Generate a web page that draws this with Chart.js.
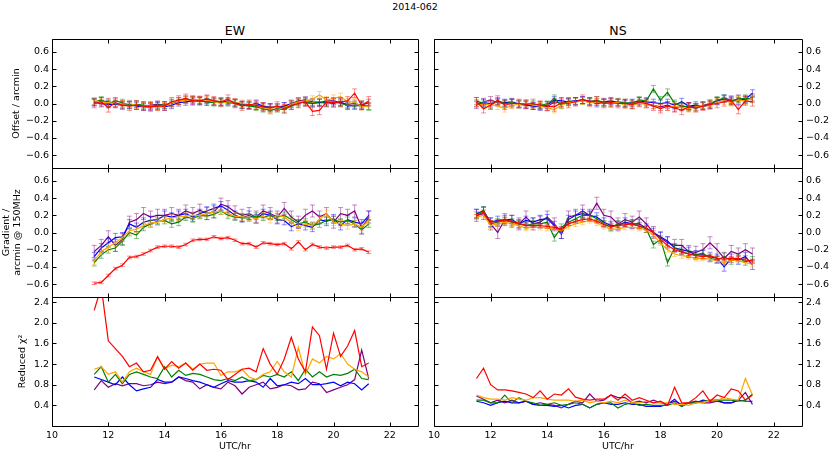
<!DOCTYPE html>
<html>
<head>
<meta charset="utf-8">
<script src="https://cdn.jsdelivr.net/npm/chart.js@4.4.1/dist/chart.umd.min.js"></script>
<style>
body { margin: 0; background: #fff; width: 830px; height: 453px; overflow: hidden; position: relative; font-family: "DejaVu Sans"; }
canvas { position: absolute; }
.lbl { position: absolute; transform: translate(-50%, -50%); white-space: nowrap; color: #000; }
</style>
</head>
<body>
<div class="lbl" style="left:415px;top:6px;font-size:9.5px">2014-062</div>
<div class="lbl" style="left:235px;top:30px;font-size:12.5px">EW</div>
<div class="lbl" style="left:618px;top:30px;font-size:12.5px">NS</div>
<canvas id="offEW"></canvas>
<canvas id="offNS"></canvas>
<canvas id="gradEW"></canvas>
<canvas id="gradNS"></canvas>
<canvas id="chiEW"></canvas>
<canvas id="chiNS"></canvas>
<script>
// time of each snapshot (UTC hours)
const times = [11.5,11.75,12,12.25,12.5,12.75,13,13.25,13.5,13.75,14,14.25,14.5,14.75,15,15.25,15.5,15.75,16,16.25,
  16.5,16.75,17,17.25,17.5,17.75,18,18.25,18.5,18.75,19,19.25,19.5,19.75,20,20.25,20.5,20.75,21,21.25];

const xTicks = [10,12,14,16,18,20,22];
const offTicks = [-0.6,-0.4,-0.2,0,0.2,0.4,0.6];
const chiTicks = [0.4,0.8,1.2,1.6,2.0,2.4];

// series order: red, orange, green, blue, purple
const offEWred    = [0.00,0.02,-0.05,0.01,-0.02,-0.03,-0.02,-0.03,-0.04,-0.03,-0.03,0.02,0.04,0.06,0.03,0.03,0.05,0.03,0.02,0.05,0.00,-0.03,-0.01,-0.02,-0.04,-0.05,-0.03,-0.06,-0.02,0.00,0.02,-0.09,-0.08,0.02,0.01,0.02,0.03,0.12,-0.02,0.03];
const offEWorange = [0.03,0.02,0.01,0.00,-0.01,0.00,-0.02,-0.03,-0.03,-0.04,-0.03,0.01,0.03,0.04,0.04,0.05,0.04,0.02,0.00,0.02,0.02,0.00,-0.01,-0.02,-0.05,-0.06,-0.04,-0.05,-0.01,0.02,0.03,0.05,0.10,0.04,0.06,0.08,0.02,0.02,-0.04,-0.03];
const offEWgreen  = [0.02,0.04,0.00,0.03,0.01,-0.02,-0.01,-0.02,-0.03,-0.02,-0.02,0.01,0.03,0.05,0.04,0.03,0.02,0.01,0.02,0.01,0.00,-0.02,-0.03,-0.04,-0.06,-0.08,-0.06,-0.07,-0.03,0.00,0.02,0.01,0.02,0.00,0.02,0.00,-0.02,-0.03,-0.01,-0.04];
const offEWblue   = [0.01,0.00,-0.01,-0.01,-0.02,-0.01,-0.03,-0.04,-0.04,-0.03,-0.04,-0.02,0.01,0.02,0.03,0.03,0.02,0.02,0.01,0.03,0.01,-0.01,-0.02,0.00,-0.03,-0.05,-0.04,-0.03,-0.01,0.02,0.01,0.00,0.01,0.01,0.00,0.02,-0.03,-0.02,-0.03,-0.03];
const offEWpurple = [0.02,0.03,0.02,0.00,-0.01,-0.02,-0.01,-0.03,-0.02,-0.01,-0.02,0.00,0.03,0.04,0.05,0.04,0.05,0.03,0.02,0.02,0.01,-0.02,-0.02,-0.03,-0.04,-0.04,-0.05,-0.03,0.00,0.03,0.04,0.02,0.01,0.03,0.03,0.01,-0.01,0.00,-0.02,0.01];

const offNSred    = [0.02,-0.06,-0.02,0.04,-0.02,0.00,0.00,-0.01,0.00,-0.02,-0.03,-0.04,0.01,0.00,0.02,0.05,0.02,0.03,0.00,0.01,0.00,0.00,-0.01,0.02,0.00,-0.03,-0.06,-0.03,-0.05,-0.08,-0.04,-0.05,-0.03,-0.01,0.00,0.02,0.04,-0.07,0.03,0.02];
const offNSorange = [0.00,-0.02,-0.01,-0.03,-0.06,-0.02,-0.01,0.00,-0.02,-0.03,-0.05,-0.07,-0.02,0.01,0.02,0.03,0.01,0.02,0.00,0.01,0.01,-0.02,-0.02,0.00,-0.01,-0.02,-0.05,-0.04,-0.03,-0.05,-0.06,-0.04,-0.02,-0.03,0.02,0.03,0.01,0.04,0.03,0.06];
const offNSgreen  = [0.03,0.00,-0.02,0.03,0.00,0.01,-0.01,0.00,-0.01,-0.02,-0.01,0.06,-0.02,0.03,0.02,0.03,0.02,0.04,0.01,0.00,0.02,0.01,0.00,0.04,0.03,0.17,0.04,0.13,0.00,-0.03,-0.04,-0.05,-0.03,-0.01,0.04,0.06,0.03,0.05,0.06,0.05];
const offNSblue   = [0.00,0.01,0.00,0.02,0.01,0.02,-0.01,-0.02,-0.03,-0.04,-0.02,0.04,0.03,0.02,0.03,0.04,0.02,0.00,0.01,0.02,0.01,0.00,0.01,0.03,0.02,0.01,0.00,0.01,-0.02,0.02,-0.03,-0.02,-0.03,-0.02,0.03,0.06,0.04,0.03,0.05,0.12];
const offNSpurple = [-0.02,0.02,0.04,0.01,0.00,0.01,0.00,-0.01,-0.03,-0.02,-0.04,0.02,0.00,0.02,0.03,0.04,0.03,0.02,0.02,0.03,0.01,0.00,-0.02,0.01,0.00,-0.02,-0.04,-0.02,-0.05,-0.04,-0.03,-0.04,-0.02,0.00,0.03,0.05,0.02,0.06,0.04,0.07];

const gradEWred    = [-0.59,-0.58,-0.50,-0.42,-0.38,-0.29,-0.28,-0.25,-0.21,-0.17,-0.16,-0.16,-0.17,-0.14,-0.09,-0.08,-0.08,-0.05,-0.07,-0.06,-0.09,-0.13,-0.13,-0.17,-0.12,-0.13,-0.14,-0.13,-0.19,-0.11,-0.20,-0.14,-0.17,-0.18,-0.17,-0.17,-0.15,-0.20,-0.19,-0.23];
const gradEWorange = [-0.33,-0.22,-0.17,-0.12,-0.06,0.02,0.04,0.08,0.11,0.12,0.15,0.17,0.18,0.19,0.20,0.20,0.22,0.24,0.25,0.22,0.19,0.18,0.18,0.16,0.19,0.15,0.20,0.18,0.12,0.06,0.10,0.08,0.15,0.22,0.12,0.10,0.08,0.10,0.06,0.14];
const gradEWgreen  = [-0.35,-0.26,-0.20,-0.18,-0.10,0.00,-0.03,0.06,0.10,0.13,0.14,0.10,0.12,0.18,0.16,0.20,0.19,0.21,0.25,0.20,0.18,0.17,0.17,0.19,0.18,0.20,0.18,0.20,0.15,0.10,0.12,0.08,0.10,0.14,0.15,0.12,0.14,0.10,0.03,0.10];
const gradEWblue   = [-0.28,-0.18,-0.12,-0.06,-0.05,0.10,0.06,0.12,0.14,0.15,0.20,0.18,0.20,0.22,0.18,0.22,0.25,0.28,0.31,0.26,0.20,0.17,0.20,0.16,0.22,0.20,0.15,0.14,0.07,0.10,0.08,0.06,0.15,0.13,0.16,0.08,0.15,0.12,0.10,0.20];
const gradEWpurple = [-0.22,-0.15,-0.05,-0.15,-0.08,0.12,0.15,0.22,0.18,0.20,0.20,0.22,0.20,0.25,0.22,0.26,0.22,0.24,0.33,0.30,0.24,0.20,0.22,0.18,0.25,0.22,0.18,0.28,0.18,0.12,0.20,0.25,0.18,0.22,0.12,0.22,0.20,0.25,0.05,0.18];

const gradNSred    = [0.19,0.24,0.12,0.13,0.15,0.13,0.11,0.08,0.08,0.08,0.07,0.06,0.04,0.10,0.13,0.15,0.16,0.13,0.09,0.07,0.08,0.09,0.10,0.07,0.05,0.00,-0.08,-0.15,-0.20,-0.23,-0.25,-0.27,-0.28,-0.27,-0.30,-0.31,-0.30,-0.30,-0.32,-0.33];
const gradNSorange = [0.18,0.20,0.08,0.10,0.12,0.10,0.08,0.05,0.06,0.06,0.05,0.04,0.02,0.07,0.10,0.12,0.14,0.11,0.07,0.04,0.04,0.06,0.06,0.05,0.03,-0.03,-0.12,-0.20,-0.25,-0.27,-0.28,-0.30,-0.30,-0.31,-0.33,-0.35,-0.32,-0.33,-0.35,-0.37];
const gradNSgreen  = [0.20,0.26,0.10,0.12,0.14,0.12,0.10,0.08,0.10,0.10,0.12,-0.06,0.06,0.12,0.16,0.20,0.20,0.16,0.10,0.06,0.10,0.10,0.10,0.08,0.04,-0.14,-0.08,-0.35,-0.18,-0.22,-0.25,-0.26,-0.24,-0.30,-0.32,-0.28,-0.33,-0.30,-0.34,-0.32];
const gradNSblue   = [0.22,0.25,0.12,0.14,0.15,0.15,0.10,0.14,0.12,0.15,0.16,0.08,-0.02,0.15,0.20,0.22,0.20,0.18,0.12,0.08,0.08,0.12,0.10,0.10,0.05,0.00,-0.05,-0.10,-0.18,-0.20,-0.22,-0.26,-0.26,-0.28,-0.30,-0.40,-0.30,-0.32,-0.28,-0.38];
const gradNSpurple = [0.20,0.22,0.10,0.00,0.15,0.13,0.10,0.18,0.10,0.12,0.18,0.10,0.00,0.18,0.20,0.25,0.20,0.34,0.20,0.18,0.10,0.15,0.12,0.18,0.10,0.00,-0.06,-0.12,-0.15,-0.15,-0.22,-0.23,-0.20,-0.12,-0.20,-0.30,-0.22,-0.25,-0.20,-0.25];

const chiEWred    = [2.24,2.70,1.65,1.50,1.35,1.15,1.22,1.05,1.08,1.34,1.10,1.25,1.12,1.22,1.08,1.20,1.08,1.10,1.08,0.90,1.00,1.10,1.12,1.05,1.50,1.20,1.00,1.30,1.72,1.30,1.05,1.92,1.75,1.10,1.80,1.35,1.55,1.85,1.15,1.22];
const chiEWorange = [1.10,1.15,1.00,1.05,0.85,1.05,1.12,1.05,1.00,1.35,1.10,1.18,1.15,1.22,1.10,1.20,1.22,1.22,0.98,1.05,1.05,1.10,0.95,0.90,1.00,1.05,1.25,1.05,0.95,1.52,1.00,1.30,1.22,1.35,1.30,1.40,1.20,1.10,1.05,0.95];
const chiEWgreen  = [1.00,1.15,0.85,1.00,0.82,1.00,1.05,1.00,0.95,0.92,1.15,0.95,1.08,0.98,1.02,1.00,0.95,0.90,0.88,0.92,0.88,0.95,0.88,0.90,0.98,0.95,1.00,0.95,1.05,0.88,1.10,0.95,1.05,0.95,1.00,0.98,1.02,1.10,0.92,0.90];
const chiEWblue   = [0.95,0.90,0.85,0.80,0.95,0.80,0.68,0.72,0.75,0.90,0.85,0.85,0.95,0.92,0.88,0.85,0.80,0.75,0.82,0.88,0.85,0.85,0.88,0.85,0.75,0.92,0.78,0.80,0.85,0.82,0.92,0.80,0.80,0.82,0.85,0.78,0.85,0.82,0.70,0.82];
const chiEWpurple = [0.70,0.88,0.75,0.82,0.78,0.82,0.82,0.78,0.80,0.85,0.82,0.85,0.95,0.88,0.85,0.72,0.80,0.75,0.72,0.85,0.78,0.62,0.75,0.80,0.85,0.72,0.75,0.80,0.78,0.70,0.72,0.85,0.82,0.65,0.70,0.75,0.80,0.90,1.47,0.92];

const chiNSred    = [0.92,1.12,0.80,0.70,0.70,0.68,0.65,0.62,0.55,0.68,0.52,0.62,0.60,0.72,0.56,0.52,0.50,0.52,0.52,0.60,0.50,0.62,0.50,0.55,0.50,0.45,0.48,0.40,0.75,0.45,0.45,0.55,0.68,0.48,0.60,0.55,0.72,0.68,0.50,0.60];
const chiNSorange = [0.60,0.55,0.52,0.52,0.50,0.55,0.52,0.50,0.55,0.55,0.52,0.50,0.50,0.50,0.48,0.50,0.45,0.48,0.45,0.48,0.45,0.50,0.45,0.45,0.48,0.45,0.45,0.45,0.42,0.42,0.40,0.45,0.45,0.50,0.50,0.55,0.52,0.50,0.92,0.60];
const chiNSgreen  = [0.50,0.50,0.45,0.45,0.60,0.45,0.55,0.48,0.45,0.40,0.42,0.45,0.40,0.42,0.45,0.42,0.35,0.42,0.45,0.45,0.35,0.42,0.45,0.40,0.42,0.40,0.40,0.40,0.45,0.38,0.45,0.45,0.48,0.50,0.50,0.50,0.50,0.48,0.50,0.62];
const chiNSblue   = [0.48,0.45,0.40,0.45,0.48,0.45,0.45,0.48,0.42,0.40,0.40,0.38,0.40,0.35,0.40,0.42,0.35,0.42,0.45,0.42,0.42,0.45,0.42,0.42,0.38,0.38,0.38,0.42,0.52,0.38,0.45,0.45,0.50,0.48,0.50,0.45,0.45,0.50,0.48,0.48];
const chiNSpurple = [0.58,0.52,0.45,0.50,0.45,0.50,0.45,0.48,0.42,0.45,0.42,0.40,0.35,0.42,0.48,0.45,0.62,0.48,0.50,0.60,0.55,0.55,0.45,0.48,0.45,0.50,0.45,0.42,0.48,0.42,0.45,0.48,0.45,0.45,0.48,0.45,0.45,0.50,0.65,0.42];

// typical 1-sigma errors per series
const errOffEW  = [0.05, 0.04, 0.04, 0.04, 0.04];
const errOffNS  = [0.05, 0.04, 0.04, 0.04, 0.04];
const errGradEW = [0.015, 0.04, 0.04, 0.05, 0.07];
const errGradNS = [0.02, 0.03, 0.04, 0.05, 0.07];

const colors    = ['rgb(255,0,0)', 'rgb(255,165,0)', 'rgb(0,128,0)', 'rgb(0,0,255)', 'rgb(128,0,128)'];
const errColors = ['rgba(255,0,0,0.45)', 'rgba(255,165,0,0.45)', 'rgba(0,128,0,0.45)', 'rgba(0,0,255,0.45)', 'rgba(128,0,128,0.45)'];

const tickFont = { family: 'DejaVu Sans', size: 9.5 };
const fmt = v => Number(v).toFixed(1).replace('-', '\u2212');

const errPlugin = {
  id: 'errbars',
  afterDatasetDraw(chart, args) {
    const ds = chart.data.datasets[args.index];
    if (!ds.err) return;
    const ctx = chart.ctx, a = chart.chartArea, ys = chart.scales.y;
    ctx.save();
    ctx.beginPath();
    ctx.rect(a.left, a.top, a.right - a.left, a.bottom - a.top);
    ctx.clip();
    ctx.strokeStyle = ds.errColor;
    ctx.lineWidth = 1;
    ctx.beginPath();
    args.meta.data.forEach((pt, i) => {
      const v = ds.data[i].y;
      const x = pt.x;
      const y1 = ys.getPixelForValue(v - ds.err), y2 = ys.getPixelForValue(v + ds.err);
      ctx.moveTo(x, y1); ctx.lineTo(x, y2);
      ctx.moveTo(x - 2.5, y1); ctx.lineTo(x + 2.5, y1);
      ctx.moveTo(x - 2.5, y2); ctx.lineTo(x + 2.5, y2);
    });
    ctx.stroke();
    ctx.restore();
  }
};

// box around each panel with inward ticks on all sides
const framePlugin = {
  id: 'frame',
  afterDraw(chart) {
    const ctx = chart.ctx, a = chart.chartArea;
    const xs = chart.scales.x, ys = chart.scales.y;
    const l = Math.round(a.left) + 0.5, r = Math.round(a.right) + 0.5;
    const t = Math.round(a.top) + 0.5, b = Math.round(a.bottom) + 0.5;
    ctx.save();
    ctx.strokeStyle = '#000';
    ctx.lineWidth = 1;
    ctx.beginPath();
    ctx.moveTo(l, t); ctx.lineTo(r, t); ctx.lineTo(r, b); ctx.lineTo(l, b); ctx.closePath();
    xTicks.forEach(v => {
      const x = Math.round(xs.getPixelForValue(v)) + 0.5;
      ctx.moveTo(x, b); ctx.lineTo(x, b - 4);
      ctx.moveTo(x, t); ctx.lineTo(x, t + 4);
    });
    ys.ticks.forEach(tk => {
      const y = Math.round(ys.getPixelForValue(tk.value)) + 0.5;
      ctx.moveTo(l, y); ctx.lineTo(l + 4, y);
      ctx.moveTo(r, y); ctx.lineTo(r - 4, y);
    });
    ctx.stroke();
    ctx.restore();
  }
};

function makePanel(id, col, row, series, errs, yMin, yMax, yTicks, yTitle, titlePad) {
  const panelTop = [39, 168, 297][row];
  const cv = document.getElementById(id);
  const w = col ? 410 : 420;
  const h = row === 2 ? 160 : 137;
  cv.width = w; cv.height = h;
  cv.style.left = (col ? 420 : 0) + 'px';
  cv.style.top = (panelTop - 4) + 'px';
  cv.style.width = w + 'px'; cv.style.height = h + 'px';

  const datasets = series.map((vals, k) => ({
    data: times.map((t, i) => ({ x: t, y: vals[i] })),
    borderColor: colors[k],
    borderWidth: 1.2,
    pointRadius: 0,
    tension: 0,
    fill: false,
    err: errs ? errs[k] : 0,
    errColor: errColors[k]
  }));

  new Chart(cv, {
    type: 'line',
    data: { datasets },
    plugins: [errPlugin, framePlugin],
    options: {
      responsive: false,
      animation: false,
      devicePixelRatio: 1,
      layout: { padding: { left: col ? 14 : 0, right: col ? 0 : 2, top: 4, bottom: row === 2 ? 0 : 4 } },
      plugins: { legend: { display: false }, tooltip: { enabled: false } },
      scales: {
        x: {
          type: 'linear', min: 10, max: 23,
          display: row === 2,
          afterBuildTicks: s => { s.ticks = xTicks.map(v => ({ value: v })); },
          afterFit: s => { s.height = row === 2 ? 27 : 0; s.paddingLeft = 0; s.paddingRight = 0; },
          grid: { display: false, drawTicks: false },
          border: { display: false },
          ticks: { font: tickFont, color: '#000', padding: 4, maxRotation: 0, callback: v => String(v) },
          title: { display: true, text: 'UTC/hr', font: tickFont, color: '#000', padding: { top: 0, bottom: 1 } }
        },
        y: {
          type: 'linear', min: yMin, max: yMax,
          position: col ? 'right' : 'left',
          afterBuildTicks: s => { s.ticks = yTicks.map(v => ({ value: v })); },
          afterFit: s => { s.width = col ? 28 : 52; s.paddingTop = 0; s.paddingBottom = 0; },
          grid: { display: false, drawTicks: false },
          border: { display: false },
          ticks: { font: tickFont, color: '#000', padding: col ? 4 : 3, callback: fmt },
          title: {
            display: !col, text: yTitle, color: '#000',
            font: { family: 'DejaVu Sans', size: 9.5, lineHeight: 1.16 },
            padding: { top: titlePad, bottom: 0 }
          }
        }
      }
    }
  });
}

makePanel('offEW', 0, 0, [offEWred, offEWorange, offEWgreen, offEWblue, offEWpurple], errOffEW, -0.75, 0.75, offTicks, 'Offset / arcmin', 11);
makePanel('offNS', 1, 0, [offNSred, offNSorange, offNSgreen, offNSblue, offNSpurple], errOffNS, -0.75, 0.75, offTicks, '', 0);
makePanel('gradEW', 0, 1, [gradEWred, gradEWorange, gradEWgreen, gradEWblue, gradEWpurple], errGradEW, -0.75, 0.75, offTicks, ['Gradient /', 'arcmin @ 150MHz'], 1.5);
makePanel('gradNS', 1, 1, [gradNSred, gradNSorange, gradNSgreen, gradNSblue, gradNSpurple], errGradNS, -0.75, 0.75, offTicks, '', 0);
makePanel('chiEW', 0, 2, [chiEWred, chiEWorange, chiEWgreen, chiEWblue, chiEWpurple], null, 0, 2.5, chiTicks, 'Reduced \u03c7\u00b2', 17);
makePanel('chiNS', 1, 2, [chiNSred, chiNSorange, chiNSgreen, chiNSblue, chiNSpurple], null, 0, 2.5, chiTicks, '', 0);
</script>
</body>
</html>
